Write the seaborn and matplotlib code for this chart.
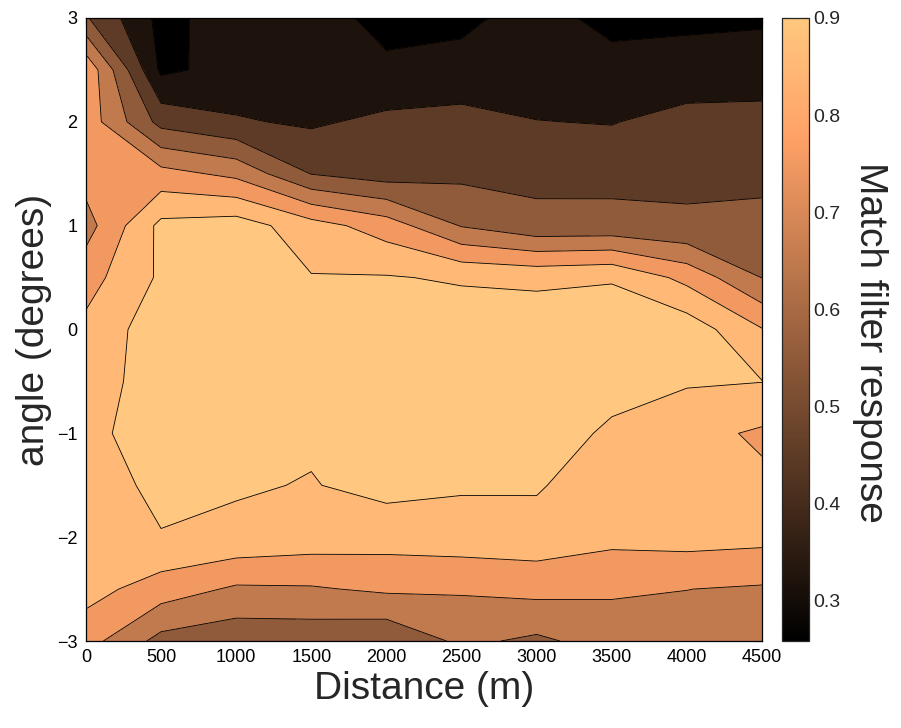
import numpy as np
import matplotlib
matplotlib.use("Agg")
import matplotlib.pyplot as plt
import seaborn as sns
from matplotlib.colors import Normalize, ListedColormap
from matplotlib.cm import ScalarMappable

# Grid of the sweep: range along x, steering angle along y
distance_m = [0, 500, 1000, 1500, 2000, 2500, 3000, 3500, 4000, 4500]
angle_deg = [-3.0, -2.5, -2.0, -1.5, -1.0, -0.5, 0.0, 0.5, 1.0, 1.5, 2.0, 2.5, 3.0]

# Match filter response, one row per angle (from -3 up to +3 degrees)
resp_m30 = [0.740, 0.567, 0.533, 0.535, 0.516, 0.621, 0.581, 0.642, 0.660, 0.650]
resp_m25 = [0.837, 0.752, 0.685, 0.690, 0.716, 0.711, 0.730, 0.7145, 0.701, 0.689]
resp_m20 = [0.850, 0.896, 0.877, 0.854, 0.842, 0.855, 0.860, 0.827, 0.8385, 0.828]
resp_m15 = [0.860, 0.920, 0.910, 0.895, 0.931, 0.911, 0.910, 0.840, 0.845, 0.819]
resp_m10 = [0.865, 0.965, 0.950, 0.914, 0.950, 0.950, 0.943, 0.886, 0.833, 0.785]
resp_m05 = [0.840, 0.960, 0.960, 0.960, 0.960, 0.960, 0.960, 0.930, 0.910, 0.902]
resp_p00 = [0.825, 0.959, 0.960, 0.960, 0.960, 0.963, 0.970, 0.950, 0.960, 0.805]
resp_p05 = [0.759, 0.916, 0.950, 0.905, 0.907, 0.888, 0.875, 0.893, 0.770, 0.598]
resp_p10 = [0.660, 0.926, 0.950, 0.842, 0.752, 0.594, 0.527, 0.529, 0.510, 0.530]
resp_p15 = [0.740, 0.735, 0.675, 0.497, 0.452, 0.4765, 0.475, 0.473, 0.486, 0.474]
resp_p20 = [0.760, 0.467, 0.410, 0.385, 0.425, 0.444, 0.4025, 0.395, 0.439, 0.455]
resp_p25 = [0.780, 0.280, 0.334, 0.340, 0.312, 0.315, 0.340, 0.318, 0.330, 0.318]
resp_p30 = [0.510, 0.270, 0.350, 0.328, 0.280, 0.290, 0.318, 0.285, 0.285, 0.295]

contour_levels = [0.3, 0.4, 0.5, 0.6, 0.7, 0.8, 0.9]
x_ticks = [0, 500, 1000, 1500, 2000, 2500, 3000, 3500, 4000, 4500]
y_ticks = [-3, -2, -1, 0, 1, 2, 3]
cbar_ticks = [0.3, 0.4, 0.5, 0.6, 0.7, 0.8, 0.9]
color_limits = (0.258, 0.9)
# response value whose colour paints each filled band (lowest band first)
band_shade_values = [0.258, 0.32, 0.45, 0.55, 0.65, 0.75, 0.85, 0.9]

sns.set_style("white")
plt.rcParams["font.family"] = ["Liberation Sans", "DejaVu Sans"]

response = np.array([resp_m30, resp_m25, resp_m20, resp_m15, resp_m10, resp_m05,
                     resp_p00, resp_p05, resp_p10, resp_p15, resp_p20, resp_p25,
                     resp_p30])
X, Y = np.meshgrid(distance_m, angle_deg)

cmap = sns.color_palette("copper", as_cmap=True)
norm = Normalize(*color_limits)
band_colors = [cmap(norm(v)) for v in band_shade_values]

fig = plt.figure(figsize=(9.01, 7.28), dpi=100)
ax = fig.add_axes([0.0954, 0.1195, 0.7503, 0.8558])
cax = fig.add_axes([0.868, 0.1195, 0.030, 0.8558])

fill_levels = [0.0] + contour_levels + [1.0]
ax.contourf(X, Y, response, levels=fill_levels, colors=band_colors)
ax.contour(X, Y, response, levels=contour_levels, colors="k", linewidths=0.6)

ax.set_xlim(0, 4500)
ax.set_ylim(-3, 3)
ax.set_xticks(x_ticks)
ax.set_yticks(y_ticks)
ax.tick_params(direction="in", length=6, width=0.8, top=True, right=True,
               labelsize=13, colors="k", pad=6)
for s in ax.spines.values():
    s.set_linewidth(0.9)
    s.set_color("k")
ax.set_xlabel("Distance (m)", fontsize=28, labelpad=3)
ax.set_ylabel("angle (degrees)", fontsize=28, labelpad=4)

cb = fig.colorbar(ScalarMappable(norm=norm, cmap=cmap), cax=cax)
cb.set_ticks(cbar_ticks)
cb.outline.set_linewidth(0.9)
cax.tick_params(direction="in", length=5, width=0.8, left=True, right=True,
                labelleft=False, labelright=True, labelsize=14, pad=3)
cb.set_label("Match filter response", fontsize=28, rotation=270,
             va="center", ha="center")
cax.yaxis.set_label_coords(3.26, 0.48)

fig.savefig("out.png", dpi=100, facecolor="white")
